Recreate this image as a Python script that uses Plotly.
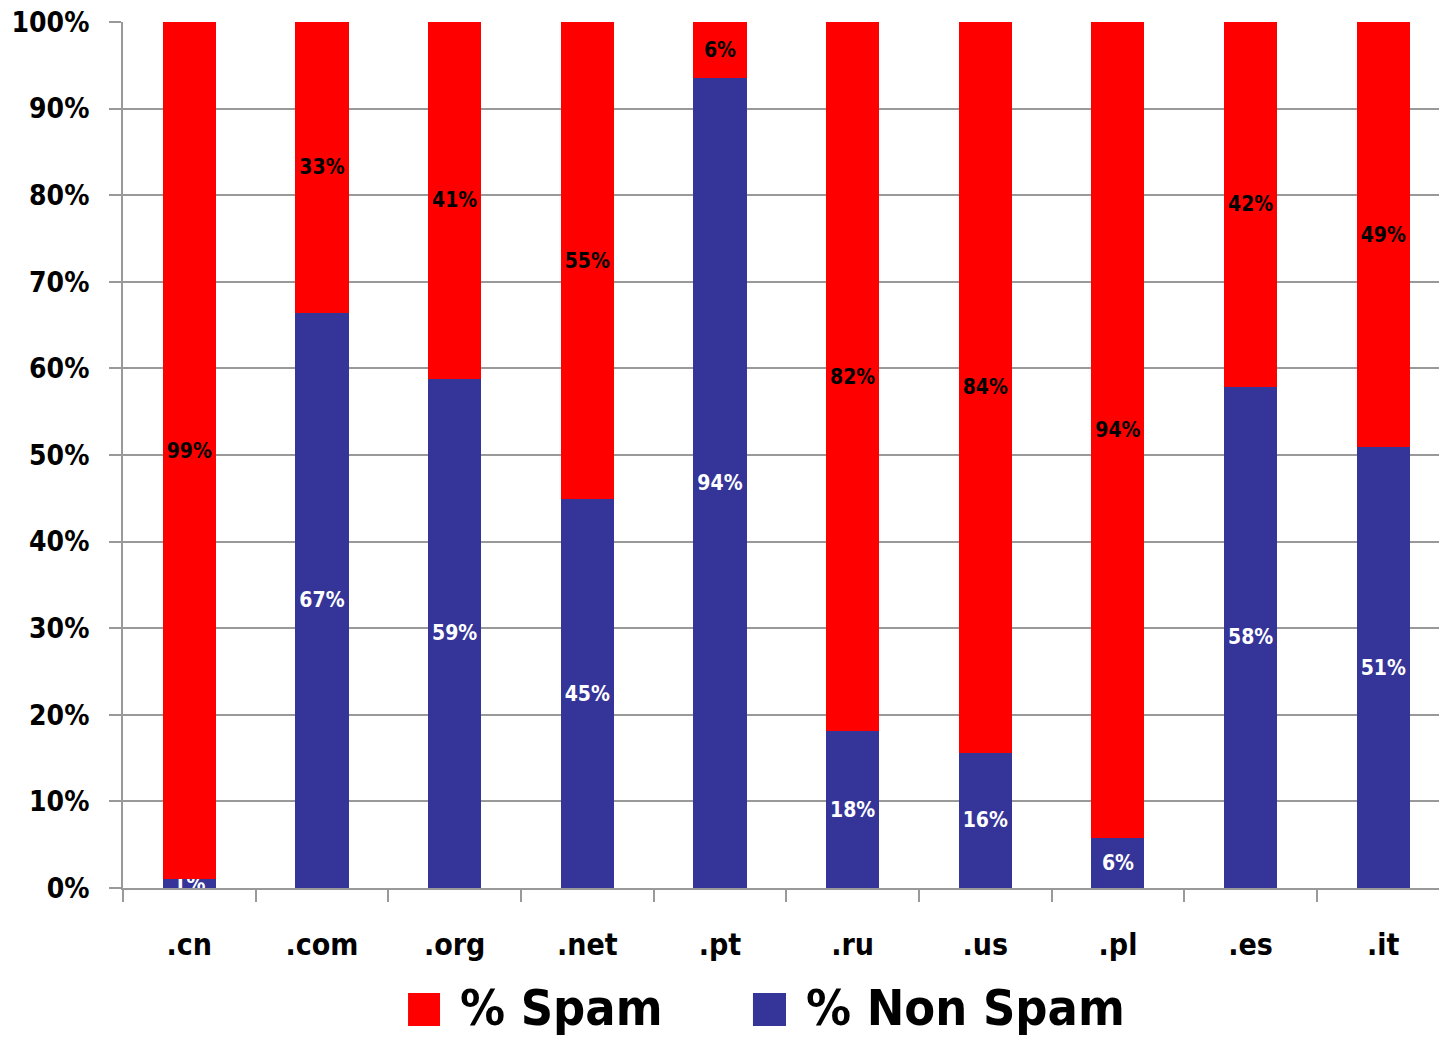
# =========================================
# Spam share by top-level domain
# =========================================

import plotly.graph_objects as go


# =========================================
# Data
# =========================================

domains = [".cn", ".com", ".org", ".net", ".pt", ".ru", ".us", ".pl", ".es", ".it"]

non_spam = [1.0, 66.4, 58.8, 44.9, 93.5, 18.1, 15.6, 5.8, 57.9, 50.9]
spam = [99.0, 33.6, 41.2, 55.1, 6.5, 81.9, 84.4, 94.2, 42.1, 49.1]

non_spam_labels = ["1%", "67%", "59%", "45%", "94%", "18%", "16%", "6%", "58%", "51%"]
spam_labels = ["99%", "33%", "41%", "55%", "6%", "82%", "84%", "94%", "42%", "49%"]

FONT = "DejaVu Sans Condensed, Liberation Sans Narrow, Arial Narrow, Liberation Sans, Arial, sans-serif"
RED = "#FF0000"
BLUE = "#353599"
GRID = "#999999"


fig = go.Figure()


# =========================================
# Non spam (bottom)
# =========================================

fig.add_trace(
    go.Bar(
        x=domains,
        y=non_spam,
        name="% Non Spam",
        marker=dict(color=BLUE, line=dict(width=0)),
        width=0.4,
        text=non_spam_labels,
        textposition="inside",
        insidetextanchor="middle",
        constraintext="none",
        textangle=0,
        textfont=dict(family=FONT, size=21, color="white", weight="bold"),
        hoverinfo="skip",
    )
)


# =========================================
# Spam (top)
# =========================================

fig.add_trace(
    go.Bar(
        x=domains,
        y=spam,
        name="% Spam",
        marker=dict(color=RED, line=dict(width=0)),
        width=0.4,
        text=spam_labels,
        textposition="inside",
        insidetextanchor="middle",
        constraintext="none",
        textangle=0,
        textfont=dict(family=FONT, size=21, color="black", weight="bold"),
        hoverinfo="skip",
    )
)


# =========================================
# Legend (drawn by hand for big swatches)
# =========================================

legend_items = [
    (RED, "% Spam", 0.2166, 0.2409),
    (BLUE, "% Non Spam", 0.4787, 0.5038),
]

for color, label, x0, x1 in legend_items:
    fig.add_shape(
        type="rect", xref="paper", yref="paper",
        x0=x0, x1=x1, y0=-0.1594, y1=-0.1212,
        fillcolor=color, line=dict(width=0),
    )
    fig.add_annotation(
        xref="paper", yref="paper",
        x=x1 + 0.0137, y=-0.1386,
        xanchor="left", yanchor="middle",
        text=label, showarrow=False,
        font=dict(family=FONT, size=50, color="black", weight="bold"),
    )


# =========================================
# Layout
# =========================================

fig.update_layout(
    barmode="stack",
    width=1439,
    height=1042,
    margin=dict(l=123, r=0, t=22, b=154),
    paper_bgcolor="white",
    plot_bgcolor="white",
    showlegend=False,
    font=dict(family=FONT, color="black"),
)

fig.update_xaxes(
    type="category",
    range=[-0.5, 9.42],
    showline=True,
    linecolor=GRID,
    linewidth=2,
    ticks="outside",
    tickson="boundaries",
    ticklen=12,
    tickwidth=2,
    tickcolor=GRID,
    ticklabelstandoff=29,
    ticklabeloverflow="allow",
    tickfont=dict(family=FONT, size=30, color="black", weight="bold"),
    showgrid=False,
)

fig.update_yaxes(
    range=[0, 100],
    dtick=10,
    ticksuffix="%",
    showline=True,
    linecolor=GRID,
    linewidth=2,
    ticks="outside",
    ticklen=12,
    tickwidth=2,
    tickcolor=GRID,
    ticklabelstandoff=14,
    ticklabeloverflow="allow",
    showgrid=True,
    gridcolor=GRID,
    gridwidth=2,
    zeroline=False,
    tickfont=dict(family=FONT, size=28, color="black", weight="bold"),
)

# drop the page's default body margin so the figure fills the window
fig.write_html(
    "out.html",
    config={"displayModeBar": False},
    post_script="document.body.style.margin='0';document.body.style.overflow='hidden';",
)
